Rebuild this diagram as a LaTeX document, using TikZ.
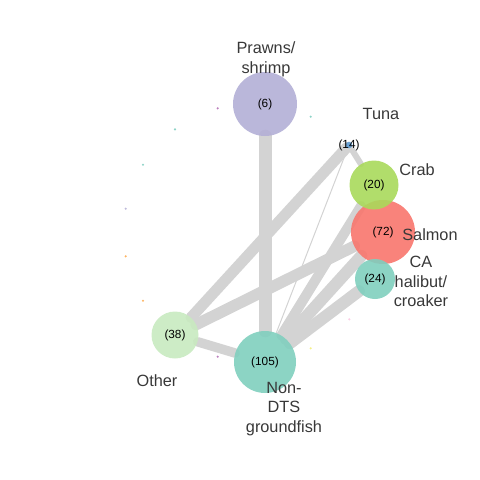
\documentclass[tikz,border=0pt]{standalone}
\usepackage{fontspec}
\setmainfont{Liberation Sans}
\pgfdeclarelayer{bg}
\pgfsetlayers{bg,main}
\definecolor{edgec}{HTML}{D3D3D3}
\definecolor{labc}{HTML}{383838}
\definecolor{prawnc}{HTML}{B3AFD6}
\definecolor{crabc}{HTML}{A9D95B}
\definecolor{salc}{HTML}{F8766D}
\definecolor{cac}{HTML}{80CFBE}
\definecolor{ndtsc}{HTML}{80CFBE}
\definecolor{othc}{HTML}{C8EAC0}
\definecolor{tunac}{HTML}{6BA3D6}
\definecolor{dteal}{HTML}{8DD3C7}
\definecolor{dlav}{HTML}{BEBADA}
\definecolor{dorange}{HTML}{FDB462}
\definecolor{dpurple}{HTML}{BC80BD}
\definecolor{dyellow}{HTML}{F5F08A}
\definecolor{dpink}{HTML}{FCCDE5}
\begin{document}
\begin{tikzpicture}[x=1pt,y=-1pt,
  vtx/.style={circle,inner sep=0pt,fill opacity=0.9,text opacity=1,text=black,font=\fontsize{11.8}{13}\selectfont},
  lab/.style={align=center,text=labc,font=\fontsize{16.3}{19.7}\selectfont,inner sep=0pt},
  edg/.style={draw=edgec,line cap=round},
  sdot/.style={circle,inner sep=0pt,minimum size=2.4pt}]
\useasboundingbox (0,0) rectangle (480,480);
% main nodes
\node[vtx,fill=prawnc,minimum size=64pt] (prawns) at (265,104) {(6)};
\node[vtx,fill=salc,minimum size=64pt] (salmon) at (383,232) {(72)};
\node[vtx,fill=crabc,minimum size=49pt] (crab) at (374,185) {(20)};
\node[vtx,fill=cac,minimum size=40pt] (ca) at (375,279) {(24)};
\node[vtx,fill=othc,minimum size=47pt] (other) at (175,335) {(38)};
\node[vtx,fill=ndtsc,minimum size=62pt] (ndts) at (265,362) {(105)};
\node[sdot,fill=tunac,minimum size=6.6pt,label={[font=\fontsize{11.8}{13}\selectfont,text=black,inner sep=0pt]center:(14)}] (tuna) at (349,145) {};
% labels
\node[lab] (lprawns) at (266,59.5) {Prawns/\\shrimp};
\node[lab] (ltuna) at (381,114) {Tuna};
\node[lab] (lcrab) at (417,170) {Crab};
\node[lab] (lsalmon) at (430,235) {Salmon};
\node[lab] (lca) at (421,281.5) {CA\\halibut/\\croaker};
\node[lab] (lother) at (157,381) {Other};
\node[lab] (lndts) at (284,409) {Non-\\DTS\\groundfish};
% isolated small nodes
\node[sdot,fill=dpurple] (d1) at (217.7,108.3) {};
\node[sdot,fill=dteal] (d2) at (310.7,116.7) {};
\node[sdot,fill=dteal] (d3) at (175,129.3) {};
\node[sdot,fill=dteal] (d4) at (143,164.7) {};
\node[sdot,fill=dlav] (d5) at (125.7,208.7) {};
\node[sdot,fill=dorange] (d6) at (125.7,256.3) {};
\node[sdot,fill=dorange] (d7) at (143,300.7) {};
\node[sdot,fill=dpurple] (d8) at (217.7,356.7) {};
\node[sdot,fill=dyellow] (d9) at (310.7,348.3) {};
\node[sdot,fill=dpink] (d10) at (349.3,319.3) {};
% edges
\begin{pgfonlayer}{bg}
\draw[edg,line width=13pt] (prawns) -- (ndts);
\draw[edg,line width=11pt] (other) -- (tuna);
\draw[edg,line width=11.5pt] (other) -- (salmon);
\draw[edg,line width=9.5pt] (other) -- (ndts);
\draw[edg,line width=6pt] (tuna) -- (crab);
\draw[edg,line width=1pt] (tuna) -- (ndts);
\draw[edg,line width=10pt] (ndts) -- (crab);
\draw[edg,line width=12pt] (ndts) -- (salmon);
\draw[edg,line width=12pt] (ndts) -- (ca);
\end{pgfonlayer}
\end{tikzpicture}
\end{document}
